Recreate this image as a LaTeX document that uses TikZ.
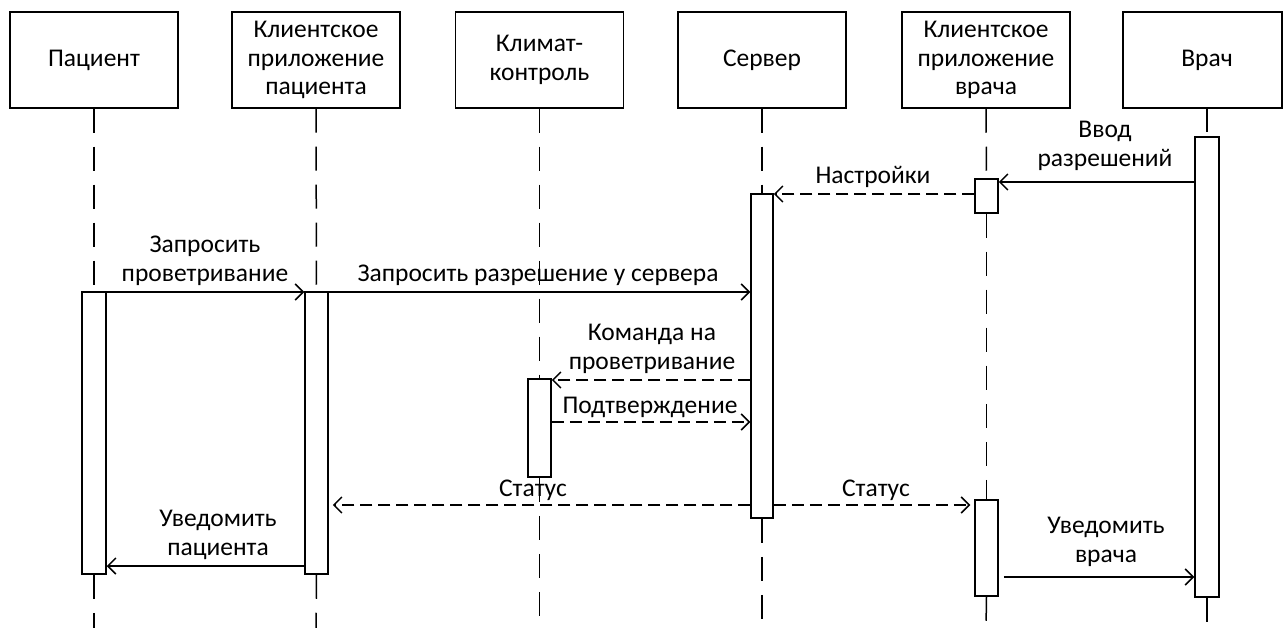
\documentclass[tikz,border=0pt]{standalone}
\usepackage{fontspec}
\setmainfont{Carlito}
\usetikzlibrary{arrows.meta}
\begin{document}
\begin{tikzpicture}[x=1pt,y=-1pt, line width=1.5pt,
  actor/.style={draw, minimum width=168pt, minimum height=96pt, align=center, inner sep=0pt, font=\fontsize{25.5}{28.5}\selectfont},
  bar/.style={draw, fill=white, minimum width=23pt, inner sep=0pt},
  life/.style={dash pattern=on 24pt off 14pt},
  msg/.style={-{Straight Barb[length=8pt,width=16pt]}},
  reply/.style={msg, dash pattern=on 12pt off 6pt},
  lbl/.style={align=center, inner sep=0pt, font=\fontsize{25.5}{28.5}\selectfont}]
\useasboundingbox (0,0) rectangle (1283,628);
% actors
\node[actor] (p)  at (94,60)    {Пациент};
\node[actor] (cp) at (316,60)   {Клиентское\\приложение\\пациента};
\node[actor] (cc) at (539.5,60) {Климат-\\контроль};
\node[actor] (s)  at (762,60)   {Сервер};
\node[actor] (cd) at (986,60)   {Клиентское\\приложение\\врача};
\node[actor, minimum width=159pt] (d) at (1202.5,60) {};
\node[lbl] (dtxt) at (1207,60) {Врач};
\coordinate (dtop) at (1207,108);
% lifeline ends
\coordinate (pend)  at (94,628);
\coordinate (cpend) at (316,628);
\coordinate (ccend) at (539.5,628);
\coordinate (send)  at (762,628);
\coordinate (cdend) at (986,628);
\coordinate (dend)  at (1207,628);
% activation bars (positions)
\path
  (94,433)    node[bar, minimum width=24pt, minimum height=282pt] (pbar) {}
  (316.5,433) node[bar, minimum height=282pt] (cpbar) {}
  (539.5,428) node[bar, minimum height=98pt] (ccbar) {}
  (762,356)   node[bar, minimum width=22pt, minimum height=324pt] (sbar) {}
  (986.5,196) node[bar, minimum height=34pt] (cdA) {}
  (986.5,548) node[bar, minimum height=96pt] (cdB) {}
  (1207,367)  node[bar, minimum width=24pt, minimum height=460pt] (dbar) {};
% lifelines
\begin{scope}[life]
\draw (p.south) -- (pbar.north);
\draw (pbar.south) -- (pend);
\draw (cp.south) -- (cpbar.north);
\draw (cpbar.south) -- (cpend);
\draw (cc.south) -- (ccbar.north);
\draw (ccbar.south) -- (ccend);
\draw (s.south) -- (sbar.north);
\draw (sbar.south) -- (send);
\draw (cd.south) -- (cdA.north);
\draw (cdA.south) -- (cdB.north);
\draw (cdB.south) -- (cdend);
\draw (dtop) -- (dbar.north);
\draw (dbar.south) -- (dend);
\end{scope}
% redraw bars on top
\path
  (94,433)    node[bar, minimum width=24pt, minimum height=282pt] {}
  (316.5,433) node[bar, minimum height=282pt] {}
  (539.5,428) node[bar, minimum height=98pt] {}
  (762,356)   node[bar, minimum width=22pt, minimum height=324pt] {}
  (986.5,196) node[bar, minimum height=34pt] {}
  (986.5,548) node[bar, minimum height=96pt] {}
  (1207,367)  node[bar, minimum width=24pt, minimum height=460pt] {};
% messages
\draw[msg]   (dbar.west |- 0,182) -- (cdA.east |- 0,182);
\draw[reply] (cdA.west |- 0,194) -- (sbar.east |- 0,194);
\draw[msg]   (pbar.east |- 0,292) -- (cpbar.west |- 0,292);
\draw[msg]   (cpbar.east |- 0,292) -- (sbar.west |- 0,292);
\draw[reply] (sbar.west |- 0,380) -- (ccbar.east |- 0,380);
\draw[reply] (ccbar.east |- 0,422) -- (sbar.west |- 0,422);
\draw[reply, shorten >=4pt] (sbar.west |- 0,505) -- (cpbar.east |- 0,505);
\draw[reply, shorten >=4pt] (sbar.east |- 0,505) -- (cdB.west |- 0,505);
\draw[msg]   (cpbar.west |- 0,566) -- (pbar.east |- 0,566);
\draw[msg, shorten <=5pt] (cdB.east |- 0,577) -- (dbar.west |- 0,577);
% labels
\node[lbl] (l1)  at (1105,146) {Ввод\\разрешений};
\node[lbl] (l2)  at (873,177)  {Настройки};
\node[lbl] (l3)  at (205,261)  {Запросить\\проветривание};
\node[lbl] (l4)  at (538,275)  {Запросить разрешение у сервера};
\node[lbl] (l5)  at (652,349)  {Команда на\\проветривание};
\node[lbl] (l6)  at (650,407)  {Подтверждение};
\node[lbl] (l7)  at (533,490)  {Статус};
\node[lbl] (l8)  at (876,490)  {Статус};
\node[lbl] (l9)  at (218,535)  {Уведомить\\пациента};
\node[lbl] (l10) at (1106,542) {Уведомить\\врача};
\end{tikzpicture}
\end{document}
